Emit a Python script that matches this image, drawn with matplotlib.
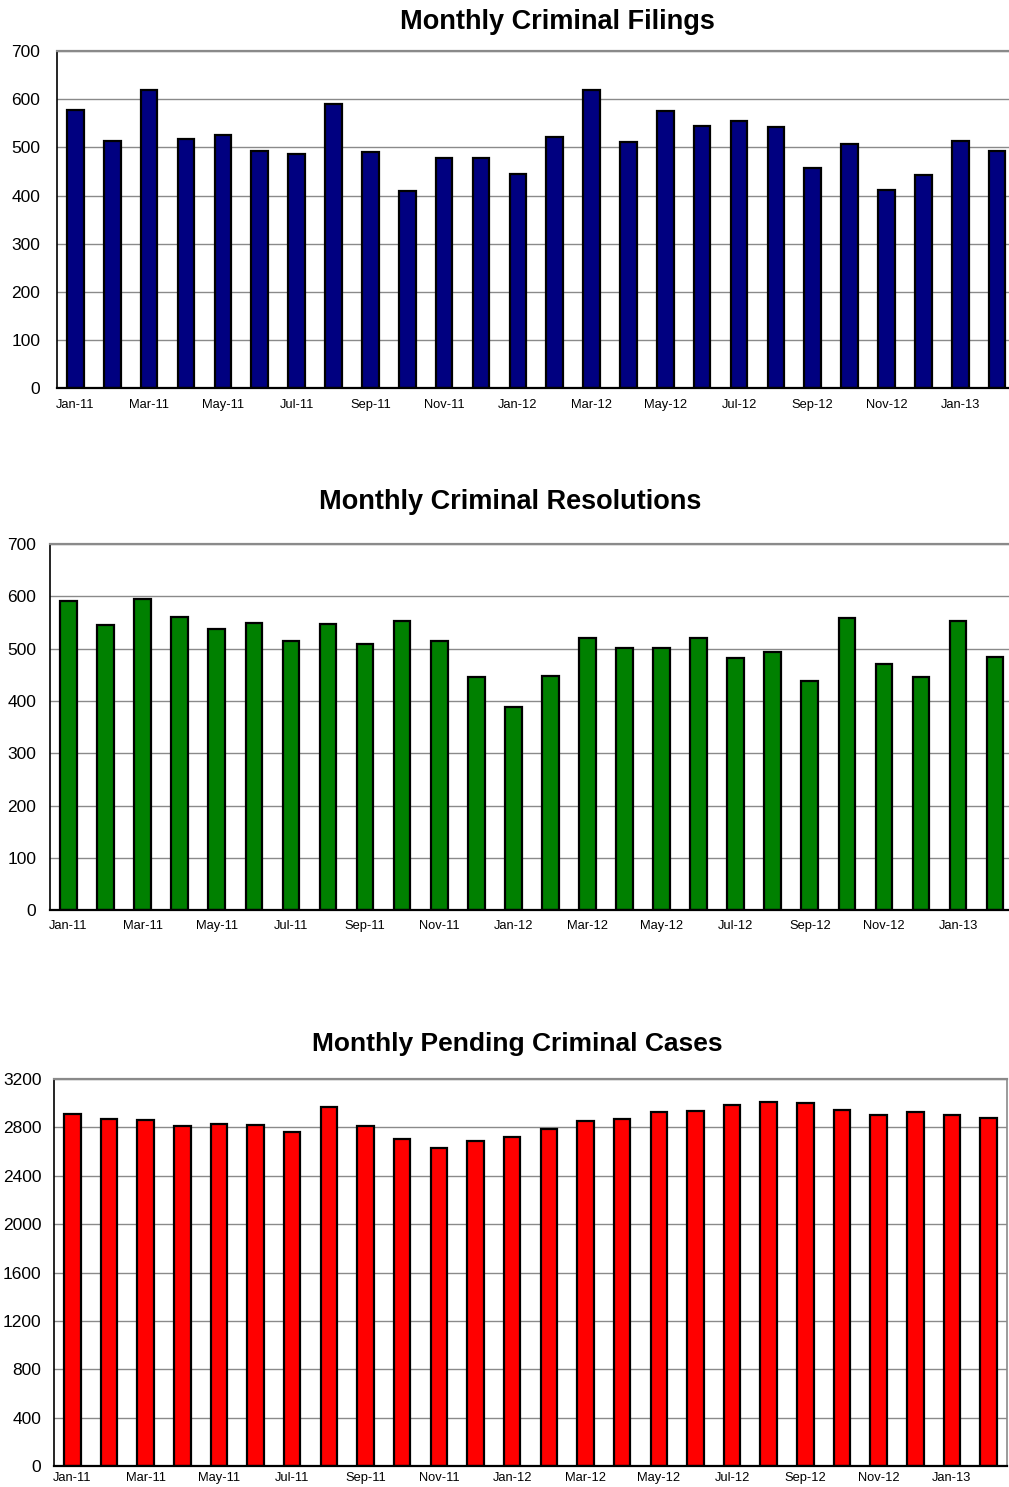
import numpy as np
import matplotlib
matplotlib.use('Agg')
import matplotlib.pyplot as plt

plt.rcParams.update({
    'font.family': ['Liberation Sans', 'DejaVu Sans'],
    'axes.axisbelow': True,
})

months = ['Jan-11', 'Feb-11', 'Mar-11', 'Apr-11', 'May-11', 'Jun-11',
          'Jul-11', 'Aug-11', 'Sep-11', 'Oct-11', 'Nov-11', 'Dec-11',
          'Jan-12', 'Feb-12', 'Mar-12', 'Apr-12', 'May-12', 'Jun-12',
          'Jul-12', 'Aug-12', 'Sep-12', 'Oct-12', 'Nov-12', 'Dec-12',
          'Jan-13', 'Feb-13']

filings = [577, 513, 619, 517, 525, 492, 486, 590, 490, 409, 478, 478,
           445, 521, 619, 511, 575, 544, 555, 542, 457, 507, 411, 442,
           513, 492]

resolutions = [591, 546, 595, 561, 537, 549, 514, 547, 509, 553, 515, 446,
               388, 447, 520, 502, 502, 521, 482, 493, 438, 559, 470, 446,
               553, 484]

pending = [2908, 2872, 2861, 2814, 2830, 2820, 2759, 2971, 2809, 2701, 2632,
           2687, 2720, 2787, 2850, 2869, 2927, 2935, 2988, 3013, 2999, 2941,
           2905, 2925, 2900, 2880]

# title, data, colour, y max, y step, axes rect, title x, title y,
# y-label pad, x-label pad, title size
panels = [
    ('Monthly Criminal Filings', filings, '#000080', 700, 100,
     [0.0565, 0.739, 0.95, 0.2266], 0.552, 0.9852, 12, 8, 19.5),
    ('Monthly Criminal Resolutions', resolutions, '#008000', 700, 100,
     [0.0496, 0.388, 0.955, 0.246], 0.5055, 0.6624, 10, 7, 19.5),
    ('Monthly Pending Criminal Cases', pending, '#FF0000', 3200, 400,
     [0.0535, 0.0141, 0.9445, 0.2603], 0.5124, 0.2979, 9, 4, 19),
]

fig = plt.figure(figsize=(10.09, 14.87), dpi=100)
x = np.arange(len(months))

for title, vals, color, ymax, step, rect, tx, ty, ypad, xpad, tsize in panels:
    ax = fig.add_axes(rect)
    ax.bar(x, vals, width=0.45, color=color, edgecolor='black', linewidth=1.6)
    ax.set_xlim(-0.5, len(months) - 0.5)
    ax.set_ylim(0, ymax)
    ax.set_yticks(np.arange(0, ymax + 1, step))
    ax.set_xticks(x[::2])
    ax.set_xticklabels(months[::2], fontsize=9.3)
    ax.tick_params(axis='y', labelsize=12.5, length=0, pad=ypad)
    ax.tick_params(axis='x', length=0, pad=xpad)
    ax.yaxis.grid(True, color='#8a8a8a', linewidth=1.0)
    ax.spines['left'].set_color('black')
    ax.spines['bottom'].set_color('black')
    ax.spines['left'].set_linewidth(1.2)
    ax.spines['bottom'].set_linewidth(1.6)
    ax.spines['top'].set_color('#8a8a8a')
    ax.spines['top'].set_linewidth(1.6)
    ax.spines['right'].set_color('#8a8a8a')
    ax.spines['right'].set_linewidth(1.2)
    ax.spines['right'].set_visible(rect[0] + rect[2] < 0.999)
    fig.text(tx, ty, title, ha='center', va='center',
             fontsize=tsize, fontweight='bold')

fig.savefig('out.png', dpi=100)
